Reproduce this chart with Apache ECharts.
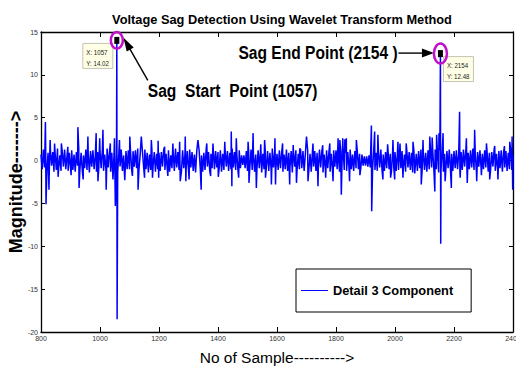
<!DOCTYPE html>
<html><head><meta charset="utf-8">
<script src="https://cdn.jsdelivr.net/npm/echarts@6/dist/echarts.min.js"></script>
<style>html,body{margin:0;padding:0;background:#fff}#c{width:516px;height:374px}</style>
</head><body><div id="c"></div>
<script>
const chartTitle = 'Voltage Sag Detection Using Wavelet Transform Method';
const xName = 'No of Sample---------->';
const yName = 'Magnitude------->';
const seriesName = 'Detail 3 Component';
const xMin = 800, xMax = 2400, xStep = 200;
const yMin = -20, yMax = 15, yStep = 5;
const startSample = 800, sampleStep = 4;
// background detail-coefficient noise, one value every 4 samples (800 .. 2400)
const noise = [
 0.7,-1.0,1.3,-0.8,1.1,-1.2,0.9,-1.4,1.2,-0.6,1.0,-1.3,0.8,-1.1,1.4,-0.9,0.6,-1.2,1.1,-0.7,1.3,-1.0,0.5,-1.2,0.9,
 -0.8,1.2,-1.1,0.7,-1.3,1.0,-0.6,1.4,-1.0,0.9,-1.2,0.6,-0.9,1.3,-1.1,0.8,-1.4,1.1,-0.7,1.2,-1.0,0.5,-1.3,1.0,-0.8,
 1.1,-0.9,1.3,-1.2,0.7,-1.0,1.4,-0.8,1.0,-1.3,0.9,-0.6,1.2,-1.1,0.8,-1.4,1.0,-0.7,1.3,-1.2,0.6,-0.9,1.1,-1.0,1.2,
 -1.0,0.8,-1.3,1.1,-0.7,1.2,-0.9,1.4,-1.1,0.6,-1.2,1.0,-0.8,1.3,-1.0,0.9,-1.4,0.7,-1.1,1.2,-0.6,1.0,-1.3,0.8,-1.0,
 0.9,-1.2,1.0,-0.7,1.3,-1.1,0.8,-1.0,1.2,-1.3,0.6,-0.9,1.1,-1.2,1.4,-0.8,1.0,-1.1,0.7,-1.3,1.2,-0.9,0.8,-1.0,1.1,
 -1.1,1.3,-0.8,1.0,-1.2,0.7,-1.4,1.1,-0.9,1.2,-1.0,0.6,-1.3,0.9,-1.1,1.4,-0.7,1.0,-1.2,0.8,-0.9,1.3,-1.0,1.1,-0.8,
 1.0,-0.9,1.2,-1.3,0.8,-1.1,1.3,-0.7,1.1,-1.2,0.9,-1.0,1.4,-0.8,1.0,-1.1,0.7,-1.3,1.2,-0.9,0.6,-0.5,0.6,-0.9,1.1,
 -1.2,1.0,-0.8,1.3,-1.1,0.9,-1.3,0.7,-1.0,1.2,-0.9,1.1,-1.4,0.8,-1.0,1.3,-0.7,1.1,-1.2,0.9,-1.0,1.4,-0.8,1.0,-1.1,
 0.8,-1.1,1.2,-0.9,1.0,-1.3,0.7,-1.0,1.3,-1.2,0.9,-0.8,1.1,-1.4,1.0,-0.7,1.2,-1.1,0.8,-1.0,1.3,-0.9,1.1,-1.2,0.7,
 -0.9,1.2,-1.1,0.8,-1.3,1.0,-0.7,1.1,-1.2,0.9,-1.0,1.3,-0.8,1.1,-1.4,0.7,-1.0,1.2,-0.9,1.0,-1.3,0.8,-1.1,1.2,-0.7,
 1.2,-1.0,0.8,-1.3,1.1,-0.9,1.4,-1.1,0.9,-1.2,1.0,-0.8,1.3,-1.0,0.7,-1.2,1.1,-0.9,1.2,-1.0,0.8,-0.9,0.7,-0.6,0.5,
 -0.6,0.5,-0.7,0.6,-0.8,1.2,-1.0,1.3,-1.1,0.9,-1.2,1.0,-0.8,1.3,-1.1,0.7,-1.2,1.0,-0.9,1.4,-1.0,0.8,-1.3,1.1,-0.9,
 1.0,-1.2,0.8,-1.1,1.3,-0.9,1.1,-1.0,0.7,-1.3,1.2,-0.8,1.0,-1.1,0.9,-1.4,1.2,-1.0,0.8,-1.2,1.1,-0.9,1.3,-1.1,1.0,
 -1.1,0.9,-1.3,1.2,-1.0,1.4,-0.8,1.1,-1.2,1.3,-1.0,0.9,-1.4,1.2,-1.1,1.0,-1.3,0.8,-1.2,1.1,-0.9,1.3,-1.0,0.8,-1.2,
 1.1,-0.9,1.2,-1.0,0.8,-1.3,1.0,-1.1,1.3,-0.7,1.1,-1.2,0.9,-1.0,1.2,-0.8,1.4,-1.1,0.9,-1.3,1.0,-0.7,1.2,-1.0,0.8,
 -1.0,1.2,-0.8,1.1,-1.3,0.9,-1.1,1.0,-0.7,1.3,-1.2,0.8,-1.0,1.1,-0.9,1.2,-1.3,1.0,-0.8,1.1,-1.2,0.9,-1.0,1.3,-1.1,
 0.6
];
// individual excursions: [sample, magnitude]
const sagStart = [1057, 14.02];
const sagEnd = [2154, 12.48];
const peaks = [
 [815,4.5],[817,-5.1],[827,-3.4],[831,2.4],[846,2.0],[858,-1.9],[869,2.0],[891,1.6],[902,-1.7],[925,3.9],[929,-3.2],
 [943,-2.2],[959,2.8],[987,3.2],[993,-2.4],[999,2.6],[1010,3.6],[1021,-3.4],[1035,2.0],[1044,-2.2],[1049,2.6],[1052,-5.3],
 sagStart,[1058,-18.5],[1066,2.4],[1084,-2.3],[1101,2.8],[1110,-1.8],[1129,-3.4],[1140,2.8],[1151,-2.0],[1174,2.4],
 [1178,-2.0],[1197,2.3],[1199,-2.0],[1219,1.6],[1230,-1.8],[1247,2.0],[1270,2.2],[1272,-2.4],[1289,2.8],[1291,-2.4],
 [1302,-2.2],[1332,2.4],[1343,-3.4],[1362,2.0],[1375,-1.8],[1383,2.0],[1401,-1.9],[1423,2.2],[1445,3.4],[1447,-3.0],
 [1462,2.6],[1470,-2.0],[1502,2.2],[1505,-2.6],[1519,3.2],[1530,-3.2],[1545,1.9],[1558,2.4],[1561,-2.0],[1581,-2.8],
 [1593,2.6],[1595,-2.8],[1619,2.0],[1643,-2.8],[1655,1.8],[1666,-2.6],[1677,1.4],[1700,2.8],[1705,-2.4],[1722,2.0],
 [1739,-3.0],[1755,1.8],[1765,-2.0],[1779,2.0],[1790,-2.4],[1807,2.6],[1813,2.4],[1818,-4.0],[1823,2.6],[1830,2.5],
 [1835,2.6],[1846,-2.4],[1869,2.4],[1881,-1.7],[1920,4.1],[1921,-5.9],[1931,3.4],[1942,3.0],[1959,-2.2],[1975,1.9],
 [1985,-2.0],[1993,2.4],[1999,-2.2],[2010,2.2],[2017,2.0],[2027,-2.0],[2038,2.0],[2061,2.2],[2067,-1.5],[2089,-2.8],
 [2095,2.4],[2118,2.8],[2126,2.7],[2135,-3.6],[2141,3.0],[2149,3.2],sagEnd,[2155,-9.7],[2163,3.2],[2170,-2.4],
 [2191,-3.2],[2219,5.7],[2221,-2.0],[2242,2.6],[2245,-2.6],[2270,3.6],[2277,-2.4],[2293,-1.7],[2310,2.0],[2321,-2.2],
 [2338,1.7],[2349,-2.2],[2371,1.7],[2389,2.2],[2397,2.8],[2399,-3.4]
];

const ARIAL = "'Liberation Sans',Arial,sans-serif";
const SQUEEZE = 0.82;

const peakSamples = new Set(peaks.map(p => p[0]));
const data = noise.map((v, i) => [startSample + i * sampleStep, v])
  .filter(d => !peakSamples.has(d[0]))
  .concat(peaks.map(p => [p[0], p[1]]))
  .sort((a, b) => a[0] - b[0]);

const chart = echarts.init(document.getElementById('c'), null, {renderer: 'svg'});
const axisLine = {show: true, onZero: false, lineStyle: {color: '#000', width: 1.3}};
const tickLabel = {fontSize: 7, color: '#333', fontFamily: ARIAL, margin: 3, formatter: v => String(v)};
chart.setOption({
  animation: false,
  backgroundColor: '#fff',
  title: {text: chartTitle, left: 277, top: 8, textAlign: 'center',
    textStyle: {fontSize: 12.8, fontWeight: 'bold', fontFamily: ARIAL, color: '#000'}},
  grid: {left: 41, right: 3, top: 32, bottom: 42, containLabel: false, outerBoundsMode: 'none'},
  legend: {data: [seriesName], left: 296, top: 269, orient: 'horizontal',
    icon: 'rect', itemWidth: 27, itemHeight: 1, padding: [15, 18, 15, 5],
    borderColor: '#000', borderWidth: 1, backgroundColor: '#fff',
    textStyle: {fontSize: 12.8, fontWeight: 'bold', fontFamily: ARIAL, color: '#000'}},
  xAxis: [
    {type: 'value', min: xMin, max: xMax, interval: xStep, position: 'bottom',
     axisLine, axisTick: {inside: true, length: 5, lineStyle: {color: '#000'}},
     axisLabel: tickLabel, splitLine: {show: false},
     name: xName, nameLocation: 'middle', nameGap: 17, nameMoveOverlap: false,
     nameTextStyle: {fontSize: 15.5, fontFamily: ARIAL, color: '#000'}},
    {type: 'value', min: xMin, max: xMax, interval: xStep, position: 'top',
     axisLine, axisTick: {inside: true, length: 5, lineStyle: {color: '#000'}},
     axisLabel: {show: false}, splitLine: {show: false}}
  ],
  yAxis: [
    {type: 'value', min: yMin, max: yMax, interval: yStep, position: 'left',
     axisLine, axisTick: {inside: true, length: 4, lineStyle: {color: '#000'}},
     axisLabel: tickLabel, splitLine: {show: false},
     name: yName, nameLocation: 'middle', nameGap: 16, nameMoveOverlap: false,
     nameTextStyle: {fontSize: 18, fontWeight: 'bold', fontFamily: ARIAL, color: '#000'}},
    {type: 'value', min: yMin, max: yMax, interval: yStep, position: 'right',
     axisLine, axisTick: {inside: true, length: 4, lineStyle: {color: '#000'}},
     axisLabel: {show: false}, splitLine: {show: false}}
  ],
  series: [{name: seriesName, type: 'line', xAxisIndex: 0, yAxisIndex: 0, data,
    showSymbol: false, symbol: 'none', clip: true,
    lineStyle: {color: '#0000ff', width: 1.5}, itemStyle: {color: '#0000ff'}}]
});

function arrow(x1, y1, x2, y2, len, w) {
  const a = Math.atan2(y2 - y1, x2 - x1);
  const bx = x2 - len * Math.cos(a), by = y2 - len * Math.sin(a);
  const nx = -Math.sin(a) * w / 2, ny = Math.cos(a) * w / 2;
  return [
    {type: 'line', z: 100, shape: {x1, y1, x2: bx + 2 * Math.cos(a), y2: by + 2 * Math.sin(a)}, style: {stroke: '#000', lineWidth: 1.4}},
    {type: 'polygon', z: 100, shape: {points: [[x2, y2], [bx + nx, by + ny], [bx - nx, by - ny]]}, style: {fill: '#000'}}
  ];
}
function marker(p, rx, ry) {
  return [
    {type: 'rect', z: 100, shape: {x: p[0] - 2.5, y: p[1] - 3.5, width: 5, height: 7}, style: {fill: '#000'}},
    {type: 'ellipse', z: 101, shape: {cx: p[0], cy: p[1], rx, ry}, style: {fill: 'none', stroke: '#c010c8', lineWidth: 2.5}}
  ];
}
function label(x, y, text, size, weight, color) {
  return {type: 'text', z: 100, x, y, scaleX: SQUEEZE,
    style: {text, fontSize: size, fontWeight: weight, fontFamily: ARIAL, fill: color, verticalAlign: 'middle'}};
}
function tip(x, y, pt) {
  return [
    {type: 'rect', z: 99, shape: {x, y, width: 30, height: 25}, style: {fill: '#ffffe6', stroke: '#c4c4b4', lineWidth: 1}},
    label(x + 3.5, y + 9, 'X: ' + pt[0], 7.5, 'normal', '#222'),
    label(x + 3.5, y + 20, 'Y: ' + pt[1], 7.5, 'normal', '#222')
  ];
}
const p1 = chart.convertToPixel({seriesIndex: 0}, sagStart);
const p2 = chart.convertToPixel({seriesIndex: 0}, sagEnd);
const g = [].concat(
  tip(p1[0] - 34, p1[1] + 3, sagStart),
  tip(p2[0] + 3, p2[1] + 3, sagEnd),
  marker(p1, 6, 8.3),
  marker(p2, 6.5, 10),
  arrow(p1[0] + 31, p1[1] + 40, p1[0] + 6.5, p1[1] - 3, 14, 8),
  arrow(p2[0] - 42, p2[1] - 0.5, p2[0] - 6.5, p2[1] - 0.5, 12, 9),
  [
    label(p1[0] + 31, p1[1] + 50, 'Sag  Start  Point (' + sagStart[0] + ')', 19, 'bold', '#000'),
    label(p2[0] - 202, p2[1] - 1, 'Sag End Point (' + sagEnd[0] + ' )', 19, 'bold', '#000')
  ]
);
chart.setOption({graphic: g});
</script></body></html>
